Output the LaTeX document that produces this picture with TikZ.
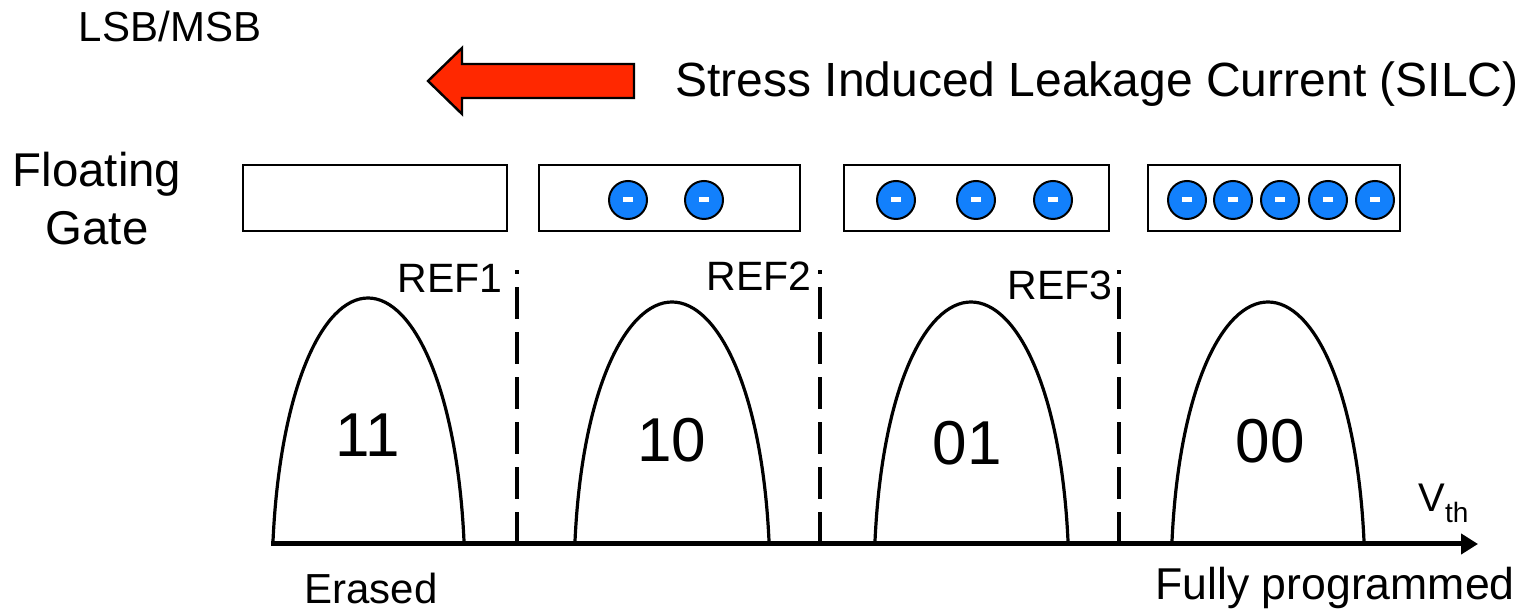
\documentclass[tikz,border=0pt]{standalone}
\usepackage{fontspec}
\setmainfont{Liberation Sans}
\usepackage{tikz}
\usetikzlibrary{arrows.meta, positioning, calc}

\definecolor{silcred}{RGB}{255,40,0}
\definecolor{electron}{RGB}{18,128,252}

\tikzset{
  gatebox/.style={draw, line width=1.2pt},
  charge/.style={circle, draw, line width=1pt, fill=electron, minimum size=19pt, inner sep=0pt},
  refline/.style={line width=2pt, dash pattern=on 16pt off 6.5pt},
  distcurve/.style={line width=1.6pt},
  vaxis/.style={line width=2.5pt, -{Triangle[length=8.5pt,width=10pt]}},
  lbl/.style={inner sep=0pt, anchor=base, font=\fontsize{21}{25}\selectfont},
  reflbl/.style={inner sep=0pt, anchor=base, font=\fontsize{20.5}{24}\selectfont},
  digit/.style={inner sep=0pt, font=\fontsize{31}{36}\selectfont},
}
\newcommand{\minusbar}{\color{white}\rule[-1.25pt]{5pt}{2.5pt}}

\begin{document}
\begin{tikzpicture}[x=0.5pt, y=-0.5pt]
\useasboundingbox (0,0) rectangle (1520,613);

% Heading and SILC arrow
\node[lbl] (lsb) at (170,42) {LSB/MSB};
\filldraw[fill=silcred, line width=1.2pt, line join=miter] (634,64) -- (462,64) -- (462,48) -- (428,81) -- (462,114) -- (462,98) -- (634,98) -- cycle;
\node[inner sep=0pt, anchor=base west, font=\fontsize{24}{28}\selectfont] (silc) at (675,97) {Stress Induced Leakage Current (SILC)};

% Floating gate cells with stored electrons
\node[align=center, inner sep=0pt, font=\fontsize{23.7}{29}\selectfont] (fg) at (97,199) {Floating\\Gate};
\foreach \xa/\xb in {243/507, 539/800, 844/1109, 1148/1400} {
  \draw[gatebox] (\xa,165) rectangle (\xb,231);
}
\foreach \x [count=\i] in {628,704,896,976,1053,1187,1233,1280,1328,1375} {
  \node[charge] (e\i) at (\x,200) {\minusbar};
}

% Vth distributions
\foreach \a/\b/\p/\m in {273/464/298/368, 575/769/302/672, 875/1068/302/971, 1172/1364/302/1268} {
  \draw[distcurve] (\a,541) .. controls (\a+7,390) and (\m-46,\p) .. (\m,\p)
    .. controls (\m+46,\p) and (\b-7,390) .. (\b,541);
}
\foreach \x/\y/\lab in {368/435/11, 672/440/10, 967/443/01, 1270/441/00} {
  \node[digit] (s\lab) at (\x,\y) {\lab};
}

% Read reference levels
\foreach \x/\r in {517/1, 820/2, 1119/3} {
  \coordinate (rb\r) at (\x,544);
  \coordinate (rt\r) at (\x,270);
  \draw[refline] (rb\r) -- (rt\r);
}
\node[reflbl] (ref1) at (450,293) {REF1};
\node[reflbl] (ref2) at (759,291) {REF2};
\node[reflbl] (ref3) at (1060,300) {REF3};

% Threshold voltage axis
\coordinate (vorigin) at (271,544);
\coordinate (vend) at (1478,544);
\draw[vaxis] (vorigin) -- (vend);
\node[lbl, anchor=base west, font=\fontsize{20}{24}\selectfont] (vth) at (1418,512) {V\raisebox{-5.5pt}{\fontsize{14}{16}\selectfont th}};
\node[lbl] (erased) at (371,604) {Erased};
\node[lbl, font=\fontsize{22.3}{26}\selectfont] (fullprog) at (1335,600) {Fully programmed};

\end{tikzpicture}
\end{document}
